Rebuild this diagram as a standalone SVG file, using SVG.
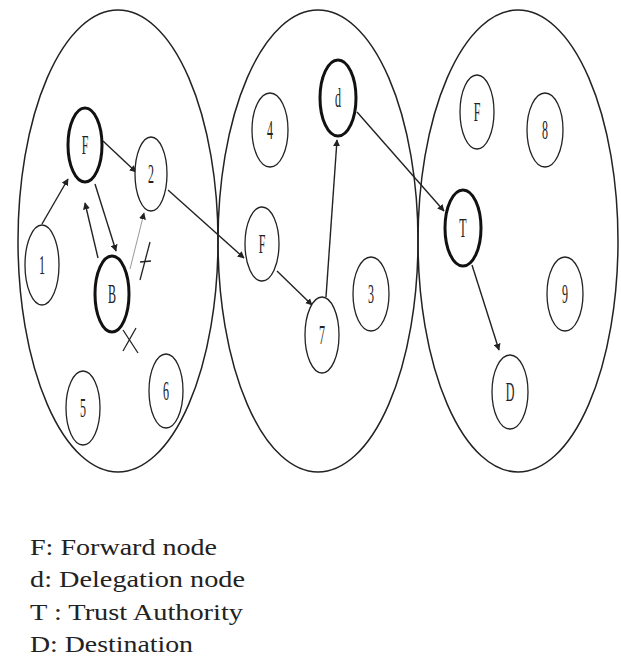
<svg xmlns="http://www.w3.org/2000/svg" width="621" height="660" viewBox="0 0 621 660">
<style>
.area{fill:none;stroke:#222;stroke-width:1.5}
.n{fill:#fff;stroke:#222;stroke-width:1.3}
.b{fill:#fff;stroke:#111;stroke-width:3}
.lbl{font-family:"Liberation Serif","Times New Roman",serif;font-size:24px;fill:#222;text-anchor:middle}
.e{stroke:#222;stroke-width:1.4;fill:none;marker-end:url(#ah)}
.g{stroke:#999;stroke-width:1;fill:none;marker-end:url(#ah)}
.m{stroke:#222;stroke-width:1.3;fill:none}
.leg{font-family:"Liberation Serif","Times New Roman",serif;font-size:24px;fill:#222}
</style>
<defs>
<marker id="ah" viewBox="0 0 10 10" refX="9" refY="5" markerWidth="7" markerHeight="7" markerUnits="userSpaceOnUse" orient="auto">
<path d="M0,0 L10,5 L0,10 z" fill="#222"/>
</marker>
</defs>
<rect width="621" height="660" fill="#fff"/>
<g id="areas">
<ellipse class="area" cx="118" cy="241" rx="100" ry="231"/>
<ellipse class="area" cx="318" cy="241" rx="100" ry="231"/>
<ellipse class="area" cx="518" cy="241" rx="100" ry="231"/>
</g>
<g id="connectors">
<line class="e" x1="42" y1="224" x2="68" y2="179"/>
<line class="e" x1="103" y1="141" x2="136" y2="172"/>
<line class="e" x1="95" y1="184" x2="116" y2="251"/>
<line class="e" x1="98" y1="258" x2="85" y2="203"/>
<line class="g" x1="130" y1="269" x2="144" y2="213"/>
<line class="e" x1="168" y1="190" x2="244" y2="258"/>
<line class="e" x1="277" y1="271" x2="312" y2="305"/>
<line class="e" x1="326" y1="297" x2="337" y2="140"/>
<line class="e" x1="357" y1="112" x2="444" y2="211"/>
<line class="e" x1="472" y1="265" x2="499" y2="350"/>
<g id="blocks">
<line class="m" x1="140" y1="280" x2="150" y2="242"/>
<line class="m" x1="140" y1="262" x2="151" y2="261"/>
<line class="m" x1="123" y1="330" x2="138" y2="353"/>
<line class="m" x1="136" y1="328" x2="123" y2="351"/>
</g>
</g>
<g id="node-F1"><ellipse class="b" cx="85" cy="145" rx="17" ry="37"/><text class="lbl" transform="translate(85,154) scale(0.5,1.1)">F</text></g>
<g id="node-2"><ellipse class="n" cx="151" cy="174" rx="16" ry="37"/><text class="lbl" transform="translate(151,183) scale(0.5,1.1)">2</text></g>
<g id="node-1"><ellipse class="n" cx="42" cy="265" rx="17" ry="40"/><text class="lbl" transform="translate(42,274) scale(0.5,1.1)">1</text></g>
<g id="node-B"><ellipse class="b" cx="112" cy="294" rx="17" ry="38"/><text class="lbl" transform="translate(112,303) scale(0.5,1.1)">B</text></g>
<g id="node-5"><ellipse class="n" cx="83" cy="408" rx="17" ry="37"/><text class="lbl" transform="translate(83,417) scale(0.5,1.1)">5</text></g>
<g id="node-6"><ellipse class="n" cx="166" cy="391" rx="17" ry="37"/><text class="lbl" transform="translate(166,400) scale(0.5,1.1)">6</text></g>
<g id="node-4"><ellipse class="n" cx="270" cy="130" rx="18" ry="37"/><text class="lbl" transform="translate(270,139) scale(0.5,1.1)">4</text></g>
<g id="node-d"><ellipse class="b" cx="338" cy="98" rx="18" ry="38"/><text class="lbl" transform="translate(338,107) scale(0.5,1.1)">d</text></g>
<g id="node-F2"><ellipse class="n" cx="262" cy="244" rx="17" ry="37"/><text class="lbl" transform="translate(262,253) scale(0.5,1.1)">F</text></g>
<g id="node-7"><ellipse class="n" cx="322" cy="335" rx="17" ry="38"/><text class="lbl" transform="translate(322,344) scale(0.5,1.1)">7</text></g>
<g id="node-3"><ellipse class="n" cx="371" cy="294" rx="18" ry="37"/><text class="lbl" transform="translate(371,303) scale(0.5,1.1)">3</text></g>
<g id="node-F3"><ellipse class="n" cx="477" cy="112" rx="17" ry="37"/><text class="lbl" transform="translate(477,121) scale(0.5,1.1)">F</text></g>
<g id="node-8"><ellipse class="n" cx="545" cy="130" rx="18" ry="37"/><text class="lbl" transform="translate(545,139) scale(0.5,1.1)">8</text></g>
<g id="node-T"><ellipse class="b" cx="463" cy="228" rx="18" ry="38"/><text class="lbl" transform="translate(463,237) scale(0.5,1.1)">T</text></g>
<g id="node-9"><ellipse class="n" cx="565" cy="294" rx="18" ry="37"/><text class="lbl" transform="translate(565,303) scale(0.5,1.1)">9</text></g>
<g id="node-D"><ellipse class="n" cx="510" cy="392" rx="18" ry="37"/><text class="lbl" transform="translate(510,401) scale(0.5,1.1)">D</text></g>
<g id="legend">
<text class="leg" x="30" y="555" textLength="187" lengthAdjust="spacingAndGlyphs">F: Forward node</text>
<text class="leg" x="30" y="587" textLength="215" lengthAdjust="spacingAndGlyphs">d: Delegation node</text>
<text class="leg" x="30" y="620" textLength="213" lengthAdjust="spacingAndGlyphs">T : Trust Authority</text>
<text class="leg" x="30" y="652" textLength="163" lengthAdjust="spacingAndGlyphs">D: Destination</text>
</g>
</svg>
